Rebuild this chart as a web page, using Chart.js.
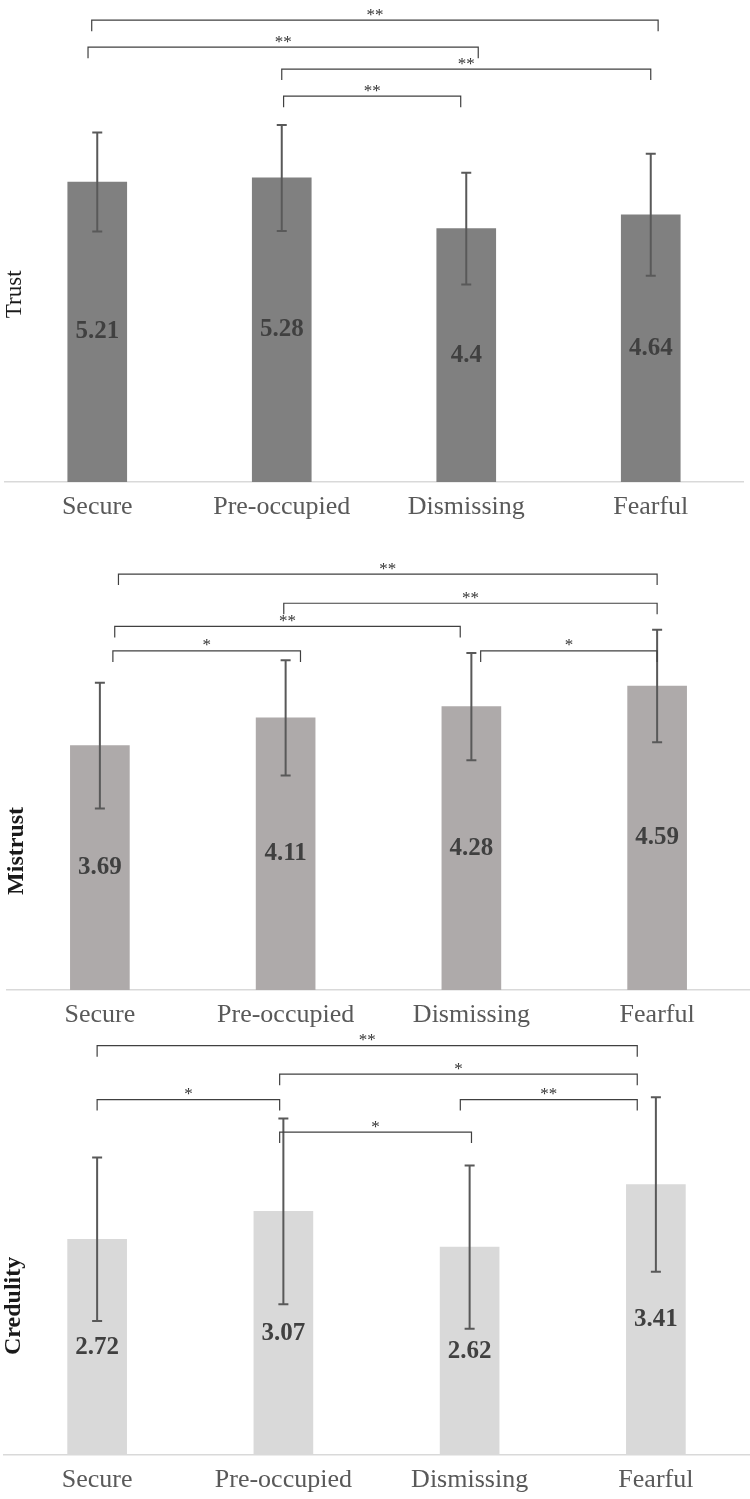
<!DOCTYPE html>
<html>
<head>
<meta charset="utf-8">
<script src="https://cdn.jsdelivr.net/npm/chart.js@4.4.0/dist/chart.umd.min.js"></script>
<style>
  html, body { margin: 0; padding: 0; background: #fff; }
  body { width: 750px; height: 1499px; position: relative; overflow: hidden; }
  .panel { position: absolute; left: 0; width: 750px; }
</style>
</head>
<body>
<div class="panel" style="top:0;height:526px"><canvas id="trustChart"></canvas></div>
<div class="panel" style="top:541px;height:493px"><canvas id="mistrustChart"></canvas></div>
<div class="panel" style="top:1025px;height:474px"><canvas id="credulityChart"></canvas></div>
<script>
// Données
const categories = ['Secure', 'Pre-occupied', 'Dismissing', 'Fearful'];

const trustMeans = [5.21, 5.28, 4.4, 4.64];
const trustSD = [0.86, 0.92, 0.97, 1.06];
const mistrustMeans = [3.69, 4.11, 4.28, 4.59];
const mistrustSD = [0.95, 0.87, 0.81, 0.85];
const credulityMeans = [2.72, 3.07, 2.62, 3.41];
const credulitySD = [1.03, 1.17, 1.03, 1.1];

// Accolades de significativité : [de, à, niveau, étiquette]
const trustBrackets = [
  [-0.03, 3.04, 8.02, '**'],
  [-0.05, 2.065, 7.55, '**'],
  [1.0, 3.0, 7.17, '**'],
  [1.01, 1.97, 6.70, '**']
];
const mistrustBrackets = [
  [0.10, 3.0, 6.28, '**'],
  [0.99, 3.0, 5.84, '**'],
  [0.08, 1.94, 5.49, '**'],
  [0.07, 1.08, 5.12, '*'],
  [2.05, 3.0, 5.12, '*']
];
const credulityBrackets = [
  [0.0, 2.9, 5.16, '**'],
  [0.98, 2.9, 4.80, '*'],
  [0.0, 0.98, 4.48, '*'],
  [1.95, 2.9, 4.48, '**'],
  [0.98, 2.01, 4.07, '*']
];

const serif = '"Liberation Serif", "Times New Roman", serif';

function makePanelPlugin(title, titleAt, brackets) {
  return {
    id: 'panelExtras',
    afterDatasetsDraw(chart) {
      const { ctx, chartArea } = chart;
      const x = chart.scales.x;
      const y = chart.scales.y;
      const meta = chart.getDatasetMeta(0);
      const ds = chart.data.datasets[0];

      ctx.save();
      // barres d'erreur
      ctx.strokeStyle = '#595959';
      ctx.lineWidth = 2;
      meta.data.forEach((bar, i) => {
        const top = y.getPixelForValue(ds.data[i] + ds.sd[i]);
        const bot = y.getPixelForValue(ds.data[i] - ds.sd[i]);
        ctx.beginPath();
        ctx.moveTo(bar.x, top); ctx.lineTo(bar.x, bot);
        ctx.moveTo(bar.x - 5, top); ctx.lineTo(bar.x + 5, top);
        ctx.moveTo(bar.x - 5, bot); ctx.lineTo(bar.x + 5, bot);
        ctx.stroke();
      });

      // valeurs au milieu des barres
      ctx.fillStyle = '#404040';
      ctx.font = 'bold 25px ' + serif;
      ctx.textAlign = 'center';
      ctx.textBaseline = 'middle';
      meta.data.forEach((bar, i) => {
        ctx.fillText(String(ds.data[i]), bar.x, (bar.y + bar.base) / 2);
      });

      // accolades
      ctx.strokeStyle = '#404040';
      ctx.lineWidth = 1.2;
      ctx.fillStyle = '#333';
      ctx.font = '17px ' + serif;
      brackets.forEach(([from, to, level, label]) => {
        const x1 = x.getPixelForValue(from);
        const x2 = x.getPixelForValue(to);
        const yy = y.getPixelForValue(level);
        ctx.beginPath();
        ctx.moveTo(x1, yy + 11);
        ctx.lineTo(x1, yy);
        ctx.lineTo(x2, yy);
        ctx.lineTo(x2, yy + 11);
        ctx.stroke();
        ctx.fillText(label, (x1 + x2) / 2, yy - 5);
      });

      // titre de l'axe y
      ctx.translate(chartArea.left + 10, y.getPixelForValue(titleAt));
      ctx.rotate(-Math.PI / 2);
      ctx.fillStyle = '#1a1a1a';
      ctx.font = title.font;
      ctx.fillText(title.text, 0, 0);
      ctx.restore();
    }
  };
}

function buildPanel(id, title, titleAt, means, sd, brackets, color, yMax, padding) {
  const ctx = document.getElementById(id).getContext('2d');
  return new Chart(ctx, {
    type: 'bar',
    data: {
      labels: categories,
      datasets: [{
        data: means,
        sd: sd,
        backgroundColor: color,
        borderWidth: 0,
        barThickness: 59
      }]
    },
    options: {
      responsive: true,
      maintainAspectRatio: false,
      animation: false,
      layout: { padding: padding },
      plugins: {
        legend: { display: false },
        tooltip: { enabled: false }
      },
      scales: {
        x: {
          grid: { display: false, drawTicks: false },
          border: { display: true, color: '#d9d9d9', width: 1.5 },
          ticks: {
            color: '#595959',
            font: { family: serif, size: 26 },
            padding: 10,
            maxRotation: 0,
            autoSkip: false
          },
          afterFit: scale => { scale.height = 44; }
        },
        y: { display: false, min: 0, max: yMax }
      }
    },
    plugins: [makePanelPlugin(title, titleAt, brackets)]
  });
}

document.addEventListener('DOMContentLoaded', function() {
  buildPanel('trustChart', { text: 'Trust', font: '23px ' + serif }, 3.26,
    trustMeans, trustSD, trustBrackets, '#808080', 8.37, { left: 5, right: 7 });
  buildPanel('mistrustChart', { text: 'Mistrust', font: 'bold 24px ' + serif }, 2.10,
    mistrustMeans, mistrustSD, mistrustBrackets, '#aeaaaa', 6.78, { left: 7, right: 0 });
  buildPanel('credulityChart', { text: 'Credulity', font: 'bold 24px ' + serif }, 1.88,
    credulityMeans, credulitySD, credulityBrackets, '#d9d9d9', 5.42, { left: 4, right: 1 });
});
</script>
</body>
</html>
